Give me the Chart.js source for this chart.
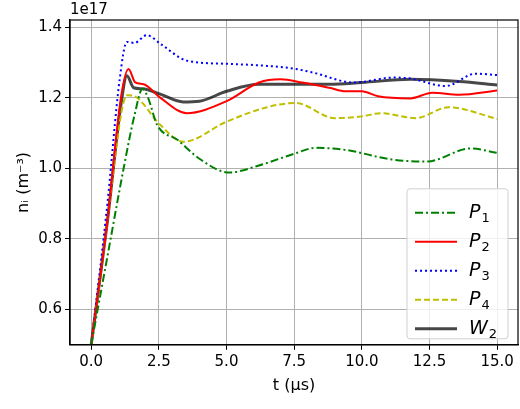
<!DOCTYPE html>
<html>
<head>
<meta charset="utf-8">
<script src="https://cdn.jsdelivr.net/npm/chart.js@4"></script>
<style>
  body { margin: 0; background: #fff; }
  #wrap { width: 520px; height: 409px; }
</style>
</head>
<body>
<div id="wrap"><canvas id="chart"></canvas></div>
<script>
// values in units of 1e17 m^-3, time in microseconds
const p1T = [0, 0.6, 1.2, 1.6, 1.9, 2.1, 2.43, 3.2, 4.0, 5.1, 6.2, 7.5, 8.3, 9.4, 11.1, 12.4, 14.0, 15.0];
const p1Values = [0.5, 0.75, 1.0, 1.15, 1.225, 1.2, 1.124, 1.08, 1.027, 0.988, 1.008, 1.041, 1.058, 1.052, 1.025, 1.019, 1.056, 1.044];
const p2T = [0, 0.6, 1.1, 1.38, 1.63, 1.94, 2.55, 3.53, 5.0, 6.2, 7.0, 7.8, 8.8, 9.4, 10.0, 10.6, 11.8, 12.6, 13.6, 15.0];
const p2Values = [0.5, 0.85, 1.2, 1.281, 1.243, 1.238, 1.2, 1.156, 1.19, 1.243, 1.252, 1.243, 1.228, 1.218, 1.218, 1.204, 1.198, 1.214, 1.208, 1.22];
const p3T = [0, 0.6, 1.05, 1.32, 1.6, 2.05, 2.6, 3.53, 5.0, 6.5, 7.5, 8.2, 9.7, 11.2, 11.8, 13.1, 14.2, 15.0];
const p3Values = [0.5, 0.9, 1.25, 1.358, 1.355, 1.377, 1.35, 1.305, 1.296, 1.29, 1.282, 1.271, 1.243, 1.257, 1.254, 1.233, 1.268, 1.264];
const p4T = [0, 0.6, 1.1, 1.32, 1.57, 2.55, 3.4, 5.0, 6.5, 7.55, 9.0, 10.0, 10.7, 12.0, 13.2, 15.0];
const p4Values = [0.5, 0.85, 1.15, 1.207, 1.205, 1.123, 1.075, 1.132, 1.173, 1.185, 1.142, 1.147, 1.156, 1.142, 1.173, 1.14];
const w2T = [0, 0.6, 1.1, 1.32, 1.57, 1.9, 2.55, 3.4, 4.0, 5.0, 6.2, 7.5, 8.8, 10.0, 11.8, 13.6, 15.0];
const w2Values = [0.5, 0.85, 1.18, 1.262, 1.228, 1.225, 1.21, 1.188, 1.19, 1.218, 1.238, 1.238, 1.238, 1.243, 1.252, 1.246, 1.236];
const xTicks = [0, 2.5, 5, 7.5, 10, 12.5, 15];
const yTicks = [0.6, 0.8, 1.0, 1.2, 1.4];

const toPoints = (t, v) => t.map((x, i) => ({ x, y: v[i] }));

const series = [
  { label: 'P', sub: '1', t: p1T, v: p1Values, color: '#008000', dash: [8, 3, 2, 3], width: 2 },
  { label: 'P', sub: '2', t: p2T, v: p2Values, color: '#ff0000', dash: [], width: 2 },
  { label: 'P', sub: '3', t: p3T, v: p3Values, color: '#0000ff', dash: [2, 3], width: 2 },
  { label: 'P', sub: '4', t: p4T, v: p4Values, color: '#bfbf00', dash: [6, 3], width: 2 },
  { label: 'W', sub: '2', t: w2T, v: w2Values, color: 'rgba(0,0,0,0.72)', dash: [], width: 3 },
];

const FONT = "'DejaVu Sans', sans-serif";

// matplotlib style legend inside the axes, lower right
const legendPlugin = {
  id: 'innerLegend',
  afterDraw(chart) {
    const ctx = chart.ctx;
    const a = chart.chartArea;
    const bx = a.right - 111, by = a.bottom - 156, bw = 101, bh = 150;
    ctx.save();
    ctx.fillStyle = 'rgba(255,255,255,0.8)';
    ctx.strokeStyle = '#d0d0d0';
    ctx.lineWidth = 1;
    ctx.beginPath();
    ctx.roundRect(bx, by, bw, bh, 3);
    ctx.fill();
    ctx.stroke();
    series.forEach((s, i) => {
      const y = by + 24 + i * 29;
      ctx.strokeStyle = s.color;
      ctx.lineWidth = s.width;
      ctx.setLineDash(s.dash);
      ctx.beginPath();
      ctx.moveTo(bx + 8, y);
      ctx.lineTo(bx + 50, y);
      ctx.stroke();
      ctx.setLineDash([]);
      ctx.fillStyle = '#000';
      ctx.textBaseline = 'middle';
      ctx.font = 'italic 19px ' + FONT;
      ctx.fillText(s.label, bx + 62, y);
      const w = ctx.measureText(s.label).width;
      ctx.font = '13px ' + FONT;
      ctx.fillText(s.sub, bx + 62 + w + 1, y + 6);
    });
    // offset text
    ctx.fillStyle = '#000';
    ctx.font = '15px ' + FONT;
    ctx.textBaseline = 'bottom';
    ctx.textAlign = 'left';
    ctx.fillText('1e17', a.left, a.top - 2);
    ctx.restore();
  }
};

new Chart(document.getElementById('chart'), {
  type: 'line',
  data: {
    datasets: series.map(s => ({
      label: s.label + s.sub,
      data: toPoints(s.t, s.v),
      borderColor: s.color,
      borderWidth: s.width,
      borderDash: s.dash,
      pointRadius: 0,
      cubicInterpolationMode: 'monotone',
      fill: false,
    })),
  },
  options: {
    responsive: true,
    maintainAspectRatio: false,
    animation: false,
    layout: { padding: { top: 20, right: 2, left: 10, bottom: 10 } },
    plugins: { legend: { display: false }, tooltip: { enabled: false } },
    scales: {
      x: {
        type: 'linear',
        min: -0.78,
        max: 15.77,
        afterBuildTicks: ax => { ax.ticks = xTicks.map(value => ({ value })); },
        ticks: { color: '#000', font: { family: FONT, size: 15 }, maxRotation: 0, callback: v => v.toFixed(1) },
        grid: { color: '#b0b0b0', tickColor: '#000', tickLength: 5 },
        border: { color: '#000', width: 1.2 },
        title: { display: true, text: 't (μs)', color: '#000', font: { family: FONT, size: 16 }, padding: { top: 2 } },
      },
      y: {
        min: 0.5,
        max: 1.42,
        afterBuildTicks: ax => { ax.ticks = yTicks.map(value => ({ value })); },
        ticks: { color: '#000', font: { family: FONT, size: 15 }, callback: v => v.toFixed(1) },
        grid: { color: '#b0b0b0', tickColor: '#000', tickLength: 5 },
        border: { color: '#000', width: 1.2 },
        title: { display: true, text: 'nᵢ (m⁻³)', color: '#000', font: { family: FONT, size: 16 }, padding: { bottom: 2 } },
      },
    },
  },
  plugins: [legendPlugin, {
    id: 'frame',
    afterDraw(chart) {
      const a = chart.chartArea, ctx = chart.ctx;
      ctx.save();
      ctx.strokeStyle = '#000';
      ctx.lineWidth = 1.2;
      ctx.strokeRect(a.left, a.top, a.right - a.left, a.bottom - a.top);
      ctx.restore();
    }
  }],
});
</script>
</body>
</html>
